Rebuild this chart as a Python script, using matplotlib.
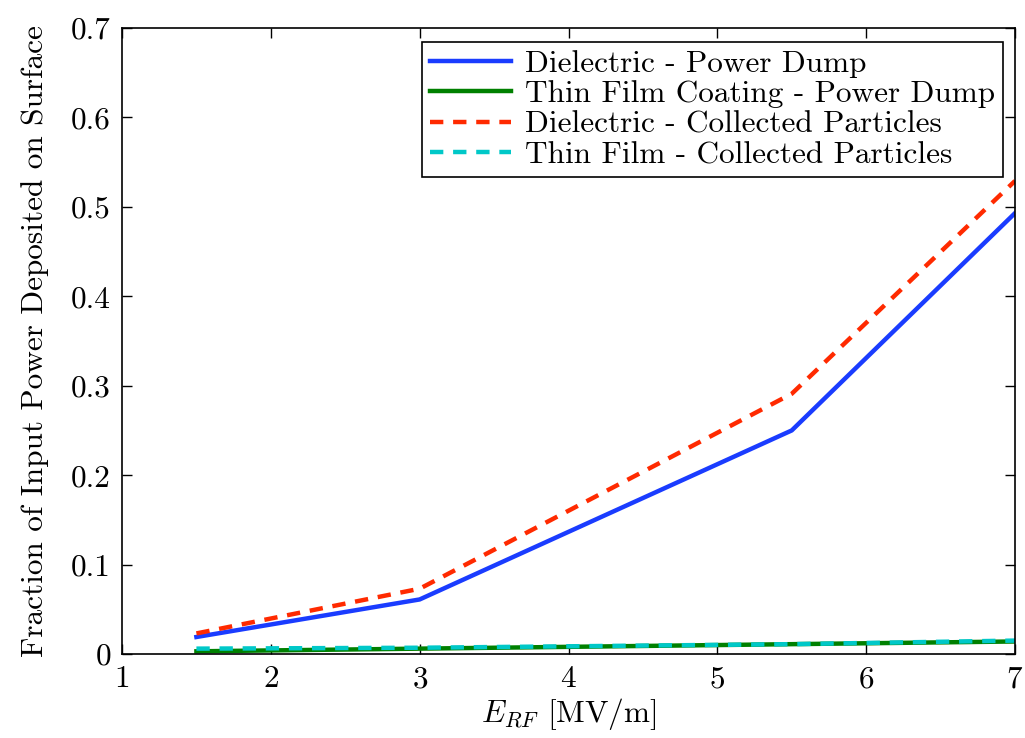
import matplotlib
matplotlib.use("Agg")
import matplotlib.pyplot as plt

plt.rcParams['font.family'] = 'cmr10'
plt.rcParams['mathtext.fontset'] = 'cm'
plt.rcParams['axes.formatter.use_mathtext'] = True

x = [1.5, 3, 5.5, 7]
diel_dump = [0.019, 0.061, 0.250, 0.493]
film_dump = [0.003, 0.006, 0.011, 0.014]
diel_coll = [0.023, 0.073, 0.291, 0.529]
film_coll = [0.006, 0.007, 0.011, 0.015]

labels = ["Dielectric - Power Dump", "Thin Film Coating - Power Dump",
          "Dielectric - Collected Particles", "Thin Film - Collected Particles"]

fig = plt.figure(figsize=(10.25, 7.38), dpi=100)
ax = fig.add_axes([122/1025, 1-654/738, (1015-122)/1025, (654-28)/738])

lw = 3.2
ax.plot(x, diel_dump, color='#1a3cff', lw=lw, label=labels[0])
ax.plot(x, film_dump, color='#008000', lw=lw, label=labels[1])
ax.plot(x, diel_coll, color='#ff2a00', lw=lw, ls=(0, (3, 2.2)), label=labels[2])
ax.plot(x, film_coll, color='#00c8c8', lw=lw, ls=(0, (3, 2.2)), label=labels[3])

ax.set_xlim(1, 7)
ax.set_ylim(0, 0.7)
ax.set_xticks(range(1, 8))
ax.set_yticks([0, 0.1, 0.2, 0.3, 0.4, 0.5, 0.6, 0.7])
ax.set_yticklabels(['0', '0.1', '0.2', '0.3', '0.4', '0.5', '0.6', '0.7'])
ax.tick_params(direction='in', top=True, right=True, labelsize=22.5, length=7, width=1, pad=8)
for s in ax.spines.values():
    s.set_linewidth(1.2)

ax.set_xlabel(r'$E_{RF}$ [MV/m]', fontsize=22.5, labelpad=2)
ax.set_ylabel('Fraction of Input Power Deposited on Surface', fontsize=22.5, labelpad=16)

leg = ax.legend(loc='upper right', fontsize=22.5, frameon=True, fancybox=False,
                edgecolor='black', framealpha=1, handlelength=2.6,
                borderpad=0.25, labelspacing=0.08, handletextpad=0.45,
                borderaxespad=0.0, bbox_to_anchor=((1003-122)/893, 1-(42-28)/626))
leg.get_frame().set_linewidth(1.2)

fig.savefig('out.png', dpi=100)
